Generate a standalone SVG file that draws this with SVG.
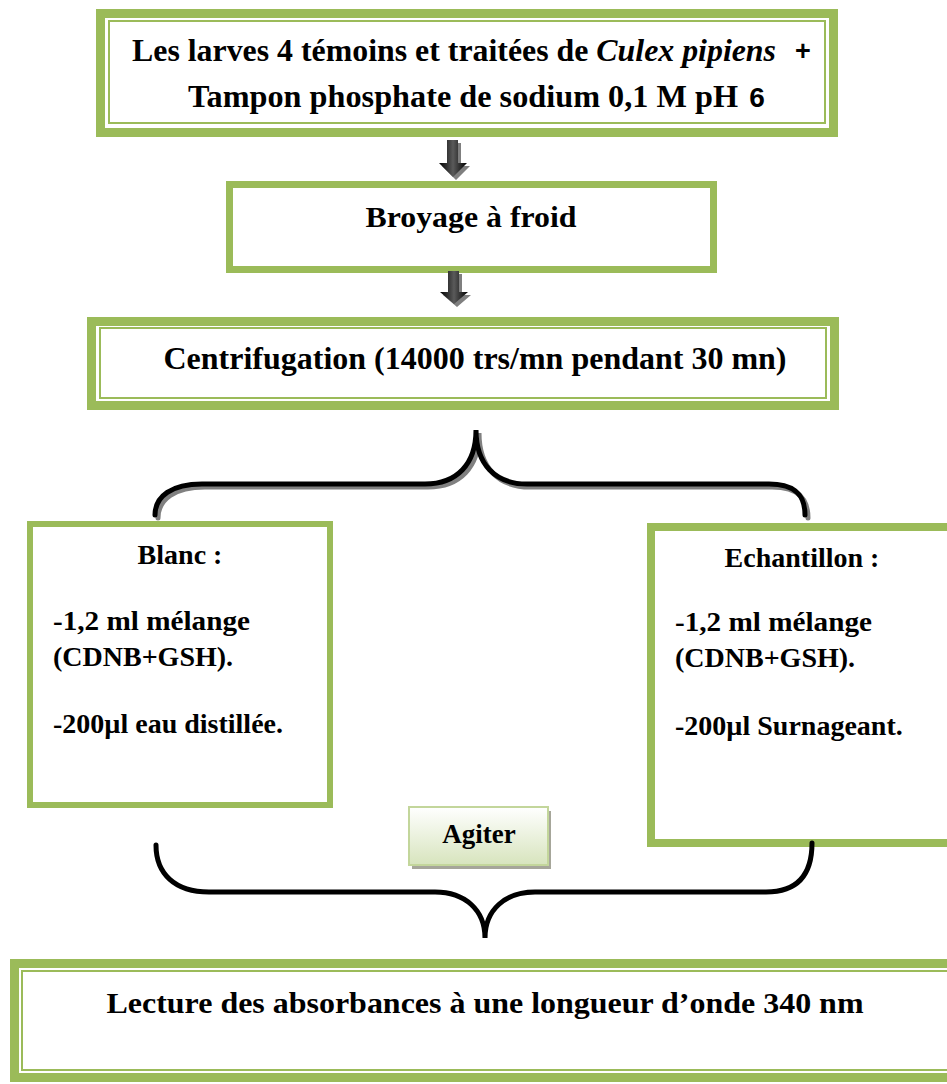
<svg xmlns="http://www.w3.org/2000/svg" width="947" height="1084" viewBox="0 0 947 1084">
<defs>
<style>
.g{fill:#fff;stroke:#9bbb59}
.t{font-family:"Liberation Serif","Times New Roman",serif;font-weight:bold;fill:#000}
.s{font-family:"Liberation Sans",Arial,sans-serif;font-weight:bold;fill:#000}
.br{fill:none;stroke:#000;stroke-width:5;stroke-linecap:round}
.brs{fill:none;stroke:#808080;stroke-width:5;stroke-linecap:round}
</style>
<linearGradient id="ag" x1="0" y1="0" x2="1" y2="0">
<stop offset="0" stop-color="#000"/><stop offset="0.5" stop-color="#5a5a5a"/><stop offset="1" stop-color="#000"/>
</linearGradient>
<linearGradient id="bg" x1="0" y1="0" x2="0" y2="1">
<stop offset="0" stop-color="#ffffff"/><stop offset="1" stop-color="#d7e4bd"/>
</linearGradient>
</defs>
<rect width="947" height="1084" fill="#fff"/>

<g id="n1">
<rect class="g" x="100.5" y="13.5" width="733" height="119" stroke-width="9"/>
<rect class="g" x="109" y="21" width="716" height="102" stroke-width="2"/>
<text class="t" x="132" y="61" font-size="31" textLength="644" lengthAdjust="spacingAndGlyphs">Les larves 4 témoins et traitées de <tspan font-style="italic">Culex pipiens</tspan></text>
<text class="s" x="803" y="60" font-size="27" text-anchor="middle">+</text>
<text class="t" x="188" y="107" font-size="31" textLength="550" lengthAdjust="spacingAndGlyphs">Tampon phosphate de sodium 0,1 M pH</text>
<text class="s" x="757" y="107" font-size="28" text-anchor="middle">6</text>
</g>

<g id="n2">
<rect class="g" x="229.5" y="184.5" width="484" height="85" stroke-width="7"/>
<text class="t" x="471" y="227" font-size="30" text-anchor="middle" textLength="211" lengthAdjust="spacingAndGlyphs">Broyage à froid</text>
</g>

<g id="n3">
<rect class="g" x="91.5" y="321.5" width="743" height="84" stroke-width="9"/>
<rect class="g" x="100" y="328" width="726" height="70" stroke-width="2"/>
<text class="t" x="475" y="369" font-size="31" text-anchor="middle" textLength="623" lengthAdjust="spacingAndGlyphs">Centrifugation (14000 trs/mn pendant 30 mn)</text>
</g>

<g id="n4">
<rect class="g" x="30" y="524" width="300" height="281" stroke-width="6"/>
<text class="t" x="180" y="564" font-size="28" text-anchor="middle">Blanc :</text>
<text class="t" x="53" y="630" font-size="28" textLength="197" lengthAdjust="spacingAndGlyphs">-1,2 ml mélange</text>
<text class="t" x="53" y="666" font-size="28">(CDNB+GSH).</text>
<text class="t" x="53" y="733" font-size="28">-200µl eau distillée.</text>
</g>

<g id="n5">
<rect class="g" x="651" y="527" width="300" height="316" stroke-width="8"/>
<text class="t" x="802" y="567" font-size="28" text-anchor="middle">Echantillon :</text>
<text class="t" x="675" y="631" font-size="28" textLength="197" lengthAdjust="spacingAndGlyphs">-1,2 ml mélange</text>
<text class="t" x="675" y="667" font-size="28">(CDNB+GSH).</text>
<text class="t" x="675" y="735" font-size="28">-200µl Surnageant.</text>
</g>

<g id="n6">
<rect x="412" y="811" width="139" height="58" fill="#a6a69a"/>
<rect x="409" y="807" width="139" height="58" fill="url(#bg)" stroke="#c3d69b" stroke-width="2"/>
<text class="t" x="479" y="843" font-size="27" text-anchor="middle">Agiter</text>
</g>

<g id="n7">
<rect class="g" x="14.5" y="963.5" width="950" height="114" stroke-width="9"/>
<rect class="g" x="22" y="971" width="940" height="99" stroke-width="2"/>
<text class="t" x="485" y="1013" font-size="30" text-anchor="middle" textLength="757" lengthAdjust="spacingAndGlyphs">Lecture des absorbances à une longueur d’onde 340 nm</text>
</g>

<g id="connectors">
<path d="M450 143 h11 v23 h9 l-14 14 l-14 -14 h8 z" fill="#7f7f7f"/>
<path d="M447 140 h11 v23 h9 l-14 14 l-14 -14 h8 z" fill="url(#ag)"/>
<path d="M451 274 h11 v21 h9 l-14 12 l-14 -12 h8 z" fill="#7f7f7f"/>
<path d="M448 271 h11 v21 h9 l-14 12 l-14 -12 h8 z" fill="url(#ag)"/>
<path class="brs" d="M158 518 C158 499 175 487 205 487 L428 487 C460 487 479 467 479 433 C479 467 498 487 530 487 L772 487 C800 487 808 500 808 518"/>
<path class="br" d="M155 515 C155 496 172 484 202 484 L425 484 C457 484 476 464 476 430 C476 464 495 484 527 484 L769 484 C797 484 805 497 805 515"/>
<path class="br" d="M156 845 C156 874 175 892 209 892 L435 892 C465 892 485 910 485 938 C485 910 505 892 535 892 L766 892 C798 892 812 874 812 843"/>
</g>
</svg>
